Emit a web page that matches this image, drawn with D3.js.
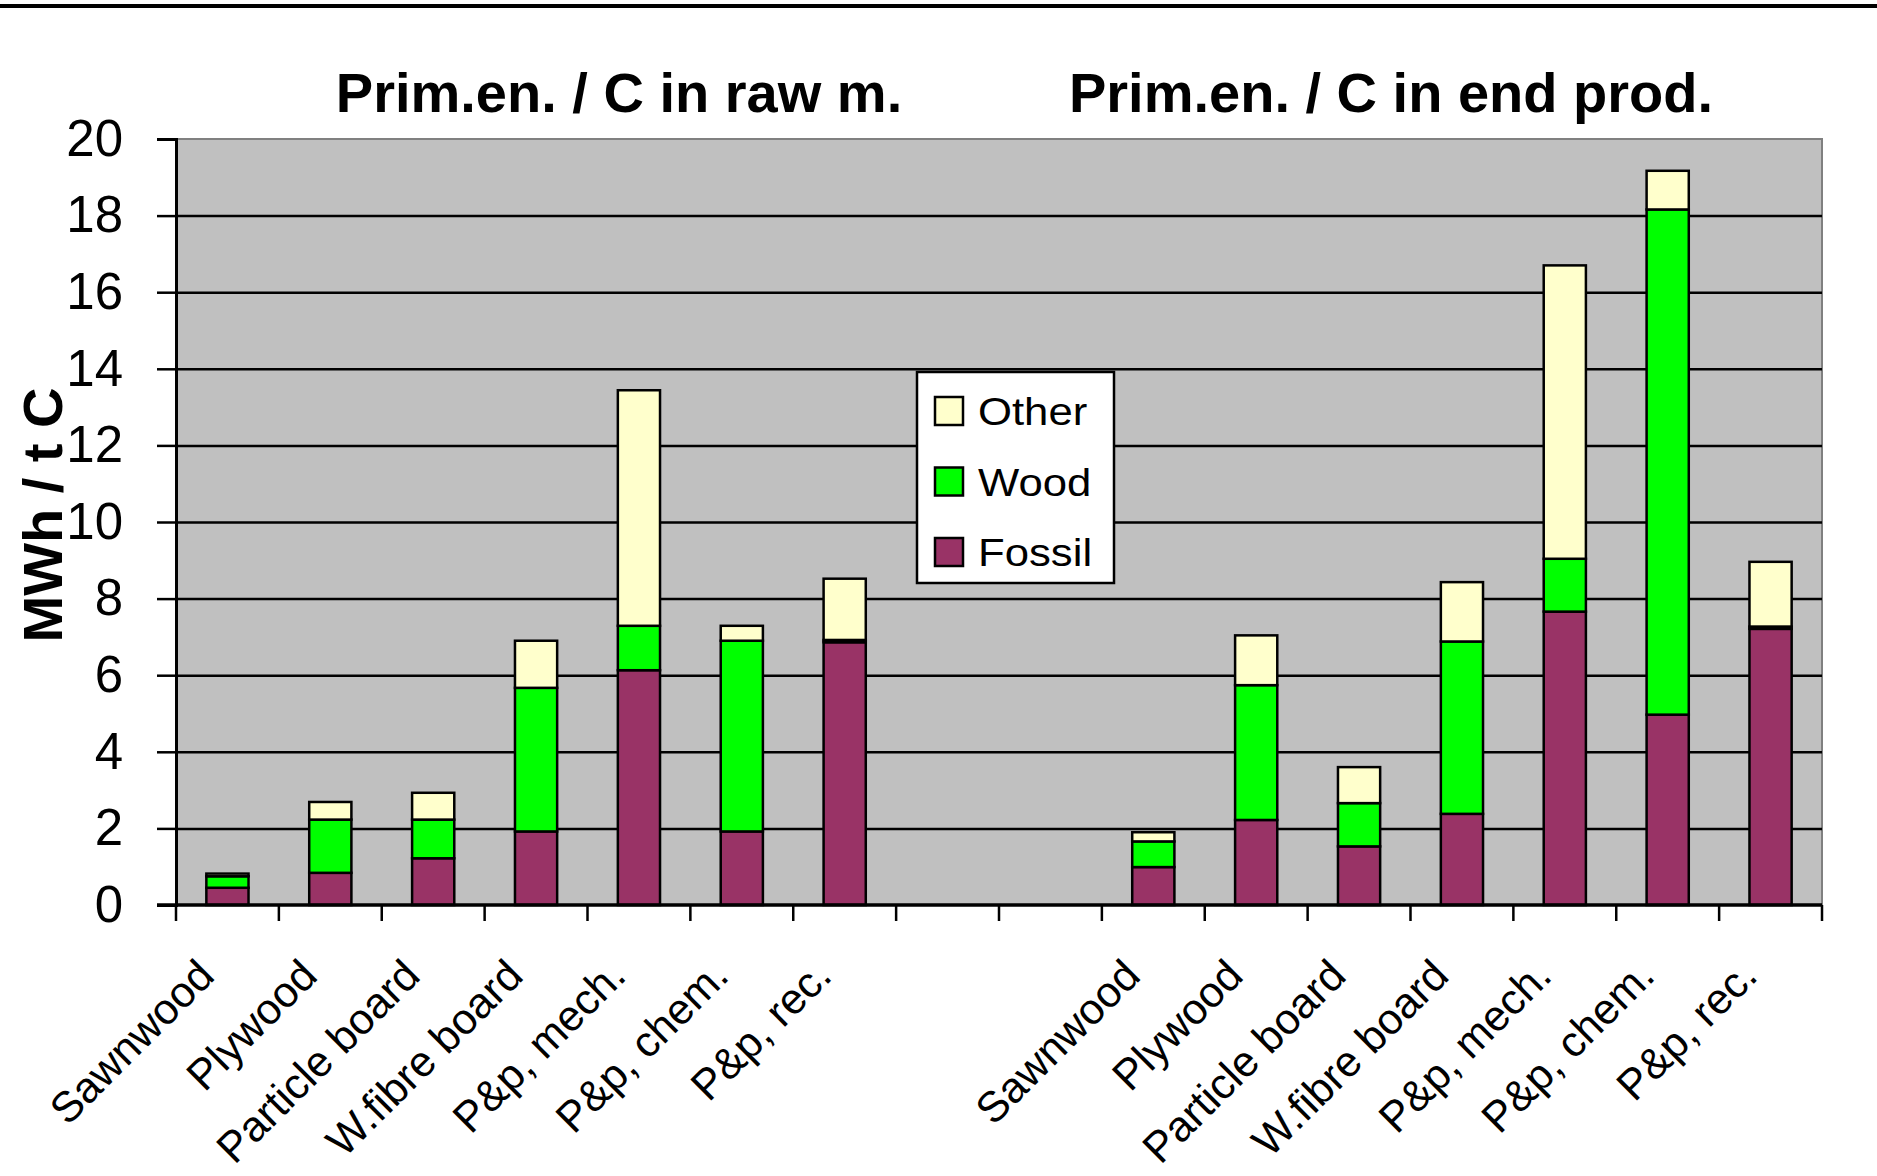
<!DOCTYPE html>
<html><head><meta charset="utf-8">
<script src="https://cdn.jsdelivr.net/npm/d3@7"></script>
<style>
body{margin:0;background:#fff}
svg{display:block;font-family:Arial,"Liberation Sans",sans-serif}
</style>
</head><body>
<svg id="chart" width="1877" height="1176"></svg>
<script>
// ---- data ----
const categories = ["Sawnwood","Plywood","Particle board","W.fibre board","P&p, mech.","P&p, chem.","P&p, rec."];
const groupTitles = ["Prim.en. / C in raw m.","Prim.en. / C in end prod."];
const seriesNames = ["Fossil","Wood","Other"];
const legendOrder = ["Other","Wood","Fossil"];
const fossilRaw = [0.45,0.84,1.22,1.92,6.13,1.92,6.86];
const woodRaw   = [0.30,1.39,1.01,3.75,1.16,4.98,0.06];
const otherRaw  = [0.07,0.46,0.70,1.23,6.15,0.39,1.60];
const fossilEnd = [0.99,2.22,1.53,2.38,7.66,4.97,7.21];
const woodEnd   = [0.67,3.52,1.13,4.50,1.38,13.19,0.06];
const otherEnd  = [0.24,1.30,0.94,1.55,7.66,1.01,1.69];
const yTicks = [0,2,4,6,8,10,12,14,16,18,20];
const yTitle = "MWh / t C";
const colors = {Fossil:"#993366", Wood:"#00FF00", Other:"#FFFFCC"};

// ---- layout ----
const L=176, R=1822, T=139, B=905;
const svg = d3.select("#chart");

const rows = [];
categories.forEach((c,i)=>rows.push({key:"raw-"+i, label:c, Fossil:fossilRaw[i], Wood:woodRaw[i], Other:otherRaw[i]}));
rows.push({key:"gap-1", label:""});
rows.push({key:"gap-2", label:""});
categories.forEach((c,i)=>rows.push({key:"end-"+i, label:c, Fossil:fossilEnd[i], Wood:woodEnd[i], Other:otherEnd[i]}));
const slots = rows.map(r=>r.key);
const barRows = rows.filter(r=>r.Fossil!==undefined);

const x = d3.scaleBand().domain(slots).range([L,R]).paddingInner(0.59).paddingOuter(0.295);
const xSlot = d3.scaleBand().domain(slots).range([L,R]);
const y = d3.scaleLinear().domain([0,20]).range([B,T]);

// top rule
svg.append("rect").attr("x",0).attr("y",4).attr("width",1877).attr("height",4).attr("fill","#000");

// plot background
svg.append("rect").attr("x",L).attr("y",T).attr("width",R-L).attr("height",B-T)
  .attr("fill","#C0C0C0").attr("stroke","#808080").attr("stroke-width",2);

// gridlines
const grid = svg.append("g").attr("transform",`translate(${L},0)`)
  .call(d3.axisLeft(y).tickValues(yTicks.filter(v=>v>0 && v<20)).tickSize(-(R-L)).tickFormat(""));
grid.select(".domain").remove();
grid.selectAll("line").attr("stroke","#000").attr("stroke-width",2.5);

// bars
const stack = d3.stack().keys(seriesNames)(barRows);
svg.append("g").selectAll("g").data(stack).join("g")
  .attr("fill",d=>colors[d.key])
  .selectAll("rect").data(d=>d).join("rect")
  .attr("x",d=>x(d.data.key)).attr("width",x.bandwidth())
  .attr("y",d=>y(d[1])).attr("height",d=>y(d[0])-y(d[1]))
  .attr("stroke","#000").attr("stroke-width",2.5);

// y axis
const ya = svg.append("g").attr("transform",`translate(${L},0)`)
  .call(d3.axisLeft(y).tickValues(yTicks).tickSize(19).tickPadding(34));
ya.select(".domain").attr("stroke","#000").attr("stroke-width",3);
ya.selectAll("line").attr("stroke","#000").attr("stroke-width",2.5);
ya.selectAll("text").attr("font-size",51).attr("fill","#000").attr("font-family","Arial, 'Liberation Sans', sans-serif");

// x axis
svg.append("line").attr("x1",L-19).attr("x2",R).attr("y1",B).attr("y2",B).attr("stroke","#000").attr("stroke-width",3.5);
const bounds = slots.map(s=>xSlot(s)).concat([R]);
svg.append("g").selectAll("line").data(bounds).join("line")
  .attr("x1",d=>d).attr("x2",d=>d).attr("y1",B).attr("y2",B+16)
  .attr("stroke","#000").attr("stroke-width",2.5);

// x labels
svg.append("g").selectAll("text").data(barRows).join("text")
  .attr("transform",d=>`translate(${x(d.key)+x.bandwidth()/2-11},${978}) rotate(-45)`)
  .attr("text-anchor","end").attr("font-size",43).attr("fill","#000")
  .text(d=>d.label);

// group titles
const titleX = [619, 1391];
svg.append("g").selectAll("text").data(groupTitles).join("text")
  .attr("x",(d,i)=>titleX[i]).attr("y",112).attr("text-anchor","middle")
  .attr("font-size",56).attr("font-weight","bold").text(d=>d);

// y title
svg.append("text").attr("transform","translate(62,515) rotate(-90)")
  .attr("text-anchor","middle").attr("font-size",56).attr("font-weight","bold").text(yTitle);

// legend
const lg = svg.append("g");
lg.append("rect").attr("x",917).attr("y",372).attr("width",197).attr("height",211)
  .attr("fill","#fff").attr("stroke","#000").attr("stroke-width",2.5);
const li = lg.selectAll("g").data(legendOrder).join("g")
  .attr("transform",(d,i)=>`translate(0,${411+i*70.5})`);
li.append("rect").attr("x",935).attr("y",-14).attr("width",28).attr("height",28)
  .attr("fill",d=>colors[d]).attr("stroke","#000").attr("stroke-width",2.5);
li.append("text").attr("transform","translate(978,14) scale(1.15,1)")
  .attr("font-size",38).attr("fill","#000").text(d=>d);
</script>
</body></html>
